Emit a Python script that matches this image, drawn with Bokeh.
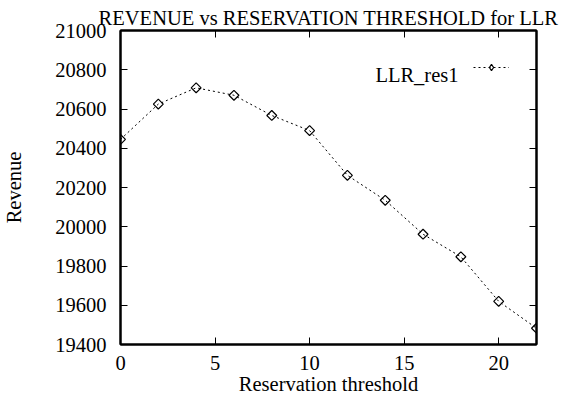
import numpy as np
from bokeh.plotting import figure
from bokeh.models import (FixedTicker, LinearAxis, Range1d, Legend, LegendItem, Label, Title)
from bokeh.embed import file_html
from bokeh.resources import INLINE

# data
thresholds = [0, 2, 4, 6, 8, 10, 12, 14, 16, 18, 20, 22]
revenue = [20445, 20625, 20708, 20670, 20567, 20490, 20262, 20135, 19962, 19847, 19620, 19483]
x_ticks = [0, 5, 10, 15, 20]
y_ticks = [19400, 19600, 19800, 20000, 20200, 20400, 20600, 20800, 21000]
series_name = "LLR_res1"
title_text = "REVENUE vs RESERVATION THRESHOLD for LLR"
x_label = "Reservation threshold"
y_label = "Revenue"

FONT = "Liberation Serif"
FS = "20.5px"

p = figure(output_backend="svg", toolbar_location=None,
           x_range=Range1d(0, 22), y_range=Range1d(19400, 21000),
           min_border_left=116, min_border_right=30, min_border_top=30, min_border_bottom=50)
p.frame_width = 416
p.frame_height = 314

p.title = Title(text=title_text, text_font=FONT, text_font_size=FS, text_font_style="normal",
                align="center", text_color="black", standoff=4)

p.xgrid.visible = False
p.ygrid.visible = False
p.outline_line_color = "black"
p.outline_line_width = 2
p.background_fill_color = "white"
p.border_fill_color = "white"

for ax in p.xaxis:
    ax.ticker = FixedTicker(ticks=x_ticks)
for ax in p.yaxis:
    ax.ticker = FixedTicker(ticks=y_ticks)

def style_axis(ax, ticks=None):
    ax.axis_line_width = 2
    ax.axis_line_color = "black"
    ax.major_tick_in = 7
    ax.major_tick_out = 0
    ax.major_tick_line_width = 1
    ax.major_tick_line_color = "black"
    ax.minor_tick_line_color = None
    ax.major_label_text_font = FONT
    ax.major_label_text_font_size = FS
    ax.major_label_text_color = "black"
    ax.axis_label_text_font = FONT
    ax.axis_label_text_font_size = FS
    ax.axis_label_text_font_style = "normal"
    ax.axis_label_text_color = "black"
    if ticks is not None:
        ax.major_label_overrides = {t: "" for t in ticks}
        ax.major_label_standoff = 0

style_axis(p.xaxis[0])
style_axis(p.yaxis[0])
p.xaxis[0].axis_label = x_label
p.yaxis[0].axis_label = y_label
p.xaxis[0].major_label_standoff = 11
p.yaxis[0].major_label_standoff = 14
p.xaxis[0].axis_label_standoff = 0
p.yaxis[0].axis_label_standoff = 27

top = LinearAxis(ticker=FixedTicker(ticks=x_ticks))
right = LinearAxis(ticker=FixedTicker(ticks=y_ticks))
style_axis(top, x_ticks)
style_axis(right, y_ticks)
p.add_layout(top, "above")
p.add_layout(right, "right")

ln = p.line(thresholds, revenue, line_color="black", line_width=1, line_dash="2 3")
sc = p.scatter(thresholds, revenue, marker="square", angle=np.pi / 4, size=7,
               fill_color=None, line_color="black", line_width=1.2)
# hidden renderer used only for the legend sample (legend does not rotate markers)
leg_marker = p.scatter(thresholds[:1], revenue[:1], marker="diamond", size=13,
                       fill_color=None, line_color="black", line_width=1.2, visible=False)

legend = Legend(items=[LegendItem(label="", renderers=[ln, leg_marker])],
                location=(353, 269), glyph_width=36, glyph_height=16,
                border_line_alpha=0, background_fill_alpha=0, padding=0, margin=0,
                label_width=0, label_standoff=0, label_text_font_size="1px",
                inactive_fill_alpha=0)
p.add_layout(legend, "center")

p.add_layout(Label(x=17.875, y=20771, text=series_name, text_align="right",
                   text_baseline="alphabetic",
                   text_font=FONT, text_font_size=FS, text_color="black"))

open("out.html", "w").write(file_html(p, INLINE))
